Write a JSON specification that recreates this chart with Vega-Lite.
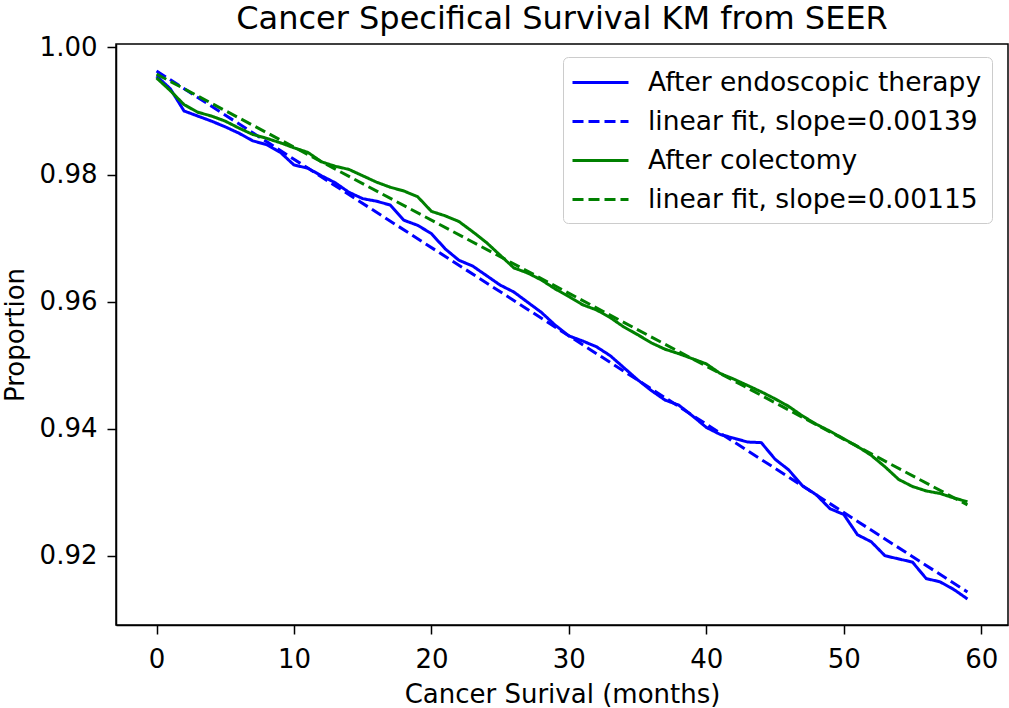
{
  "$schema": "https://vega.github.io/schema/vega-lite/v6.json",
  "autosize": "none",
  "width": 892,
  "height": 581,
  "padding": {"left": 116, "top": 44, "right": 1, "bottom": 83},
  "background": "white",
  "title": {
    "text": "Cancer Specifical Survival KM from SEER",
    "font": "DejaVu Sans",
    "fontSize": 32,
    "fontWeight": "normal",
    "color": "black",
    "anchor": "middle",
    "baseline": "bottom",
    "offset": -34
  },
  "config": {
    "view": {"stroke": "black", "strokeWidth": 1.5},
    "axis": {
      "labelFont": "DejaVu Sans",
      "titleFont": "DejaVu Sans",
      "labelFontSize": 26,
      "titleFontSize": 26,
      "titleFontWeight": "normal",
      "labelColor": "black",
      "titleColor": "black",
      "domainColor": "black",
      "domainWidth": 1.5,
      "tickColor": "black",
      "tickWidth": 1.5,
      "tickSize": 9,
      "grid": false
    },
    "legend": {
      "labelFont": "DejaVu Sans",
      "labelFontSize": 26.5,
      "labelColor": "black",
      "labelLimit": 600,
      "symbolType": "M-2,0L2,0",
      "symbolSize": 784,
      "symbolStrokeWidth": 3,
      "fillColor": "rgba(255,255,255,0.8)",
      "strokeColor": "#cccccc",
      "cornerRadius": 5,
      "padding": 10,
      "rowPadding": 10,
      "labelOffset": 32,
      "symbolOffset": 12
    }
  },
  "data": {
    "values": [
      {"month": 0, "value": 0.9955, "series": "After endoscopic therapy"},
      {"month": 1, "value": 0.9935, "series": "After endoscopic therapy"},
      {"month": 2, "value": 0.9900, "series": "After endoscopic therapy"},
      {"month": 3, "value": 0.9892, "series": "After endoscopic therapy"},
      {"month": 4, "value": 0.9884, "series": "After endoscopic therapy"},
      {"month": 5, "value": 0.9875, "series": "After endoscopic therapy"},
      {"month": 6, "value": 0.9865, "series": "After endoscopic therapy"},
      {"month": 7, "value": 0.9853, "series": "After endoscopic therapy"},
      {"month": 8, "value": 0.9847, "series": "After endoscopic therapy"},
      {"month": 9, "value": 0.9835, "series": "After endoscopic therapy"},
      {"month": 10, "value": 0.9815, "series": "After endoscopic therapy"},
      {"month": 11, "value": 0.9810, "series": "After endoscopic therapy"},
      {"month": 12, "value": 0.9798, "series": "After endoscopic therapy"},
      {"month": 13, "value": 0.9787, "series": "After endoscopic therapy"},
      {"month": 14, "value": 0.9772, "series": "After endoscopic therapy"},
      {"month": 15, "value": 0.9762, "series": "After endoscopic therapy"},
      {"month": 16, "value": 0.9758, "series": "After endoscopic therapy"},
      {"month": 17, "value": 0.9752, "series": "After endoscopic therapy"},
      {"month": 18, "value": 0.9728, "series": "After endoscopic therapy"},
      {"month": 19, "value": 0.9720, "series": "After endoscopic therapy"},
      {"month": 20, "value": 0.9707, "series": "After endoscopic therapy"},
      {"month": 21, "value": 0.9683, "series": "After endoscopic therapy"},
      {"month": 22, "value": 0.9665, "series": "After endoscopic therapy"},
      {"month": 23, "value": 0.9656, "series": "After endoscopic therapy"},
      {"month": 24, "value": 0.9641, "series": "After endoscopic therapy"},
      {"month": 25, "value": 0.9626, "series": "After endoscopic therapy"},
      {"month": 26, "value": 0.9615, "series": "After endoscopic therapy"},
      {"month": 27, "value": 0.9599, "series": "After endoscopic therapy"},
      {"month": 28, "value": 0.9583, "series": "After endoscopic therapy"},
      {"month": 29, "value": 0.9563, "series": "After endoscopic therapy"},
      {"month": 30, "value": 0.9546, "series": "After endoscopic therapy"},
      {"month": 31, "value": 0.9538, "series": "After endoscopic therapy"},
      {"month": 32, "value": 0.9529, "series": "After endoscopic therapy"},
      {"month": 33, "value": 0.9515, "series": "After endoscopic therapy"},
      {"month": 34, "value": 0.9496, "series": "After endoscopic therapy"},
      {"month": 35, "value": 0.9477, "series": "After endoscopic therapy"},
      {"month": 36, "value": 0.9460, "series": "After endoscopic therapy"},
      {"month": 37, "value": 0.9445, "series": "After endoscopic therapy"},
      {"month": 38, "value": 0.9437, "series": "After endoscopic therapy"},
      {"month": 39, "value": 0.9420, "series": "After endoscopic therapy"},
      {"month": 40, "value": 0.9402, "series": "After endoscopic therapy"},
      {"month": 41, "value": 0.9391, "series": "After endoscopic therapy"},
      {"month": 42, "value": 0.9385, "series": "After endoscopic therapy"},
      {"month": 43, "value": 0.9379, "series": "After endoscopic therapy"},
      {"month": 44, "value": 0.9378, "series": "After endoscopic therapy"},
      {"month": 45, "value": 0.9352, "series": "After endoscopic therapy"},
      {"month": 46, "value": 0.9335, "series": "After endoscopic therapy"},
      {"month": 47, "value": 0.9310, "series": "After endoscopic therapy"},
      {"month": 48, "value": 0.9296, "series": "After endoscopic therapy"},
      {"month": 49, "value": 0.9274, "series": "After endoscopic therapy"},
      {"month": 50, "value": 0.9265, "series": "After endoscopic therapy"},
      {"month": 51, "value": 0.9233, "series": "After endoscopic therapy"},
      {"month": 52, "value": 0.9222, "series": "After endoscopic therapy"},
      {"month": 53, "value": 0.9200, "series": "After endoscopic therapy"},
      {"month": 54, "value": 0.9195, "series": "After endoscopic therapy"},
      {"month": 55, "value": 0.9190, "series": "After endoscopic therapy"},
      {"month": 56, "value": 0.9164, "series": "After endoscopic therapy"},
      {"month": 57, "value": 0.9159, "series": "After endoscopic therapy"},
      {"month": 58, "value": 0.9147, "series": "After endoscopic therapy"},
      {"month": 59, "value": 0.9132, "series": "After endoscopic therapy"},
      {"month": 0, "value": 0.9963, "series": "linear fit, slope=0.00139"},
      {"month": 59, "value": 0.9143, "series": "linear fit, slope=0.00139"},
      {"month": 0, "value": 0.9952, "series": "After colectomy"},
      {"month": 1, "value": 0.9932, "series": "After colectomy"},
      {"month": 2, "value": 0.9910, "series": "After colectomy"},
      {"month": 3, "value": 0.9898, "series": "After colectomy"},
      {"month": 4, "value": 0.9892, "series": "After colectomy"},
      {"month": 5, "value": 0.9884, "series": "After colectomy"},
      {"month": 6, "value": 0.9873, "series": "After colectomy"},
      {"month": 7, "value": 0.9863, "series": "After colectomy"},
      {"month": 8, "value": 0.9857, "series": "After colectomy"},
      {"month": 9, "value": 0.9850, "series": "After colectomy"},
      {"month": 10, "value": 0.9842, "series": "After colectomy"},
      {"month": 11, "value": 0.9835, "series": "After colectomy"},
      {"month": 12, "value": 0.9820, "series": "After colectomy"},
      {"month": 13, "value": 0.9813, "series": "After colectomy"},
      {"month": 14, "value": 0.9808, "series": "After colectomy"},
      {"month": 15, "value": 0.9798, "series": "After colectomy"},
      {"month": 16, "value": 0.9788, "series": "After colectomy"},
      {"month": 17, "value": 0.9780, "series": "After colectomy"},
      {"month": 18, "value": 0.9774, "series": "After colectomy"},
      {"month": 19, "value": 0.9765, "series": "After colectomy"},
      {"month": 20, "value": 0.9742, "series": "After colectomy"},
      {"month": 21, "value": 0.9735, "series": "After colectomy"},
      {"month": 22, "value": 0.9726, "series": "After colectomy"},
      {"month": 23, "value": 0.9710, "series": "After colectomy"},
      {"month": 24, "value": 0.9693, "series": "After colectomy"},
      {"month": 25, "value": 0.9673, "series": "After colectomy"},
      {"month": 26, "value": 0.9653, "series": "After colectomy"},
      {"month": 27, "value": 0.9645, "series": "After colectomy"},
      {"month": 28, "value": 0.9634, "series": "After colectomy"},
      {"month": 29, "value": 0.9620, "series": "After colectomy"},
      {"month": 30, "value": 0.9608, "series": "After colectomy"},
      {"month": 31, "value": 0.9595, "series": "After colectomy"},
      {"month": 32, "value": 0.9587, "series": "After colectomy"},
      {"month": 33, "value": 0.9575, "series": "After colectomy"},
      {"month": 34, "value": 0.9560, "series": "After colectomy"},
      {"month": 35, "value": 0.9548, "series": "After colectomy"},
      {"month": 36, "value": 0.9535, "series": "After colectomy"},
      {"month": 37, "value": 0.9525, "series": "After colectomy"},
      {"month": 38, "value": 0.9518, "series": "After colectomy"},
      {"month": 39, "value": 0.9510, "series": "After colectomy"},
      {"month": 40, "value": 0.9502, "series": "After colectomy"},
      {"month": 41, "value": 0.9487, "series": "After colectomy"},
      {"month": 42, "value": 0.9478, "series": "After colectomy"},
      {"month": 43, "value": 0.9468, "series": "After colectomy"},
      {"month": 44, "value": 0.9458, "series": "After colectomy"},
      {"month": 45, "value": 0.9447, "series": "After colectomy"},
      {"month": 46, "value": 0.9435, "series": "After colectomy"},
      {"month": 47, "value": 0.9420, "series": "After colectomy"},
      {"month": 48, "value": 0.9407, "series": "After colectomy"},
      {"month": 49, "value": 0.9396, "series": "After colectomy"},
      {"month": 50, "value": 0.9384, "series": "After colectomy"},
      {"month": 51, "value": 0.9372, "series": "After colectomy"},
      {"month": 52, "value": 0.9358, "series": "After colectomy"},
      {"month": 53, "value": 0.9340, "series": "After colectomy"},
      {"month": 54, "value": 0.9320, "series": "After colectomy"},
      {"month": 55, "value": 0.9309, "series": "After colectomy"},
      {"month": 56, "value": 0.9302, "series": "After colectomy"},
      {"month": 57, "value": 0.9298, "series": "After colectomy"},
      {"month": 58, "value": 0.9291, "series": "After colectomy"},
      {"month": 59, "value": 0.9285, "series": "After colectomy"},
      {"month": 0, "value": 0.9958, "series": "linear fit, slope=0.00115"},
      {"month": 59, "value": 0.9280, "series": "linear fit, slope=0.00115"}
    ]
  },
  "mark": {"type": "line", "strokeWidth": 3, "clip": true},
  "encoding": {
    "x": {
      "field": "month",
      "type": "quantitative",
      "scale": {"domain": [-2.95, 61.95], "nice": false, "zero": false},
      "axis": {"values": [0, 10, 20, 30, 40, 50, 60], "title": "Cancer Surival (months)", "labelPadding": 12, "titlePadding": 9, "labelFlush": false}
    },
    "y": {
      "field": "value",
      "type": "quantitative",
      "scale": {"domain": [0.9091, 1.00054], "nice": false, "zero": false},
      "axis": {"values": [0.92, 0.94, 0.96, 0.98, 1.0], "format": ".2f", "title": "Proportion", "labelPadding": 10, "titlePadding": 11}
    },
    "color": {
      "field": "series",
      "type": "nominal",
      "scale": {
        "domain": ["After endoscopic therapy", "linear fit, slope=0.00139", "After colectomy", "linear fit, slope=0.00115"],
        "range": ["#0000ff", "#0000ff", "#008000", "#008000"]
      },
      "legend": {"orient": "none", "legendX": 447, "legendY": 13, "title": null}
    },
    "strokeDash": {
      "field": "series",
      "type": "nominal",
      "scale": {
        "domain": ["After endoscopic therapy", "linear fit, slope=0.00139", "After colectomy", "linear fit, slope=0.00115"],
        "range": [[1, 0], [11, 5], [1, 0], [11, 5]]
      },
      "legend": {"orient": "none", "legendX": 447, "legendY": 13, "title": null}
    }
  }
}
